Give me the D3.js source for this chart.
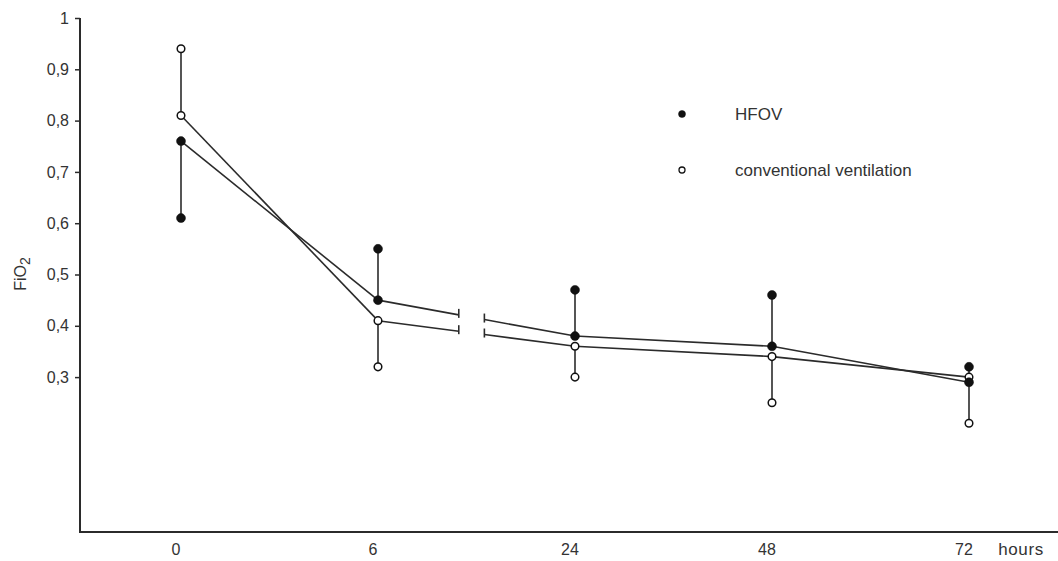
<!DOCTYPE html>
<html>
<head>
<meta charset="utf-8">
<script src="https://cdn.jsdelivr.net/npm/d3@7"></script>
<style>
  body { margin: 0; background: #fff; }
  svg { display: block; font-family: "Liberation Sans", Arial, sans-serif; }
</style>
</head>
<body>
<svg id="chart" width="1058" height="561"></svg>
<script>
// hours after start
var hours = ["0", "6", "24", "48", "72"],
    hfovMean = [0.76, 0.45, 0.38, 0.36, 0.29],
    hfovBar = [0.61, 0.55, 0.47, 0.46, 0.32],
    convMean = [0.81, 0.41, 0.36, 0.34, 0.30],
    convBar = [0.94, 0.32, 0.30, 0.25, 0.21],
    yTicks = [0.3, 0.4, 0.5, 0.6, 0.7, 0.8, 0.9, 1],
    seriesNames = ["HFOV", "conventional ventilation"];

var ink = "#2b2b2b",
    textInk = "#333",
    axisX = 80,
    axisY = 532;

var svg = d3.select("#chart");

var xScale = d3.scalePoint().domain(hours).range([181, 969]),
    yScale = d3.scaleLinear().domain([0, 1]).range([531, 18]);

// y axis
var yAxis = svg.append("g")
    .attr("transform", "translate(" + axisX + ",0)")
    .call(d3.axisLeft(yScale)
        .tickValues(yTicks)
        .tickSize(5)
        .tickPadding(6)
        .tickFormat(function(d) {
            return d === 1 ? "1" : d3.format(".1f")(d).replace(".", ",");
        }));
yAxis.select(".domain").remove();
yAxis.selectAll("line").attr("stroke", ink).attr("stroke-width", 1.5);
yAxis.selectAll("text").attr("fill", textInk).style("font-size", "16px");

svg.append("line")
    .attr("x1", axisX).attr("x2", axisX)
    .attr("y1", 18).attr("y2", axisY + 1)
    .attr("stroke", ink).attr("stroke-width", 2);

// x axis
svg.append("line")
    .attr("x1", axisX - 1).attr("x2", 1058)
    .attr("y1", axisY).attr("y2", axisY)
    .attr("stroke", ink).attr("stroke-width", 2);

svg.append("g").selectAll("text")
    .data(hours)
    .enter().append("text")
    .attr("x", function(d) { return xScale(d) - 5; })
    .attr("y", axisY + 23)
    .attr("text-anchor", "middle")
    .attr("fill", textInk)
    .style("font-size", "16px")
    .text(function(d) { return d; });

svg.append("text")
    .attr("x", 1021)
    .attr("y", axisY + 23)
    .attr("text-anchor", "middle")
    .attr("fill", textInk)
    .style("font-size", "17px")
    .style("letter-spacing", "0.6px")
    .text("hours");

// y label FiO2
var yl = svg.append("text")
    .attr("transform", "translate(26,274) rotate(-90)")
    .attr("text-anchor", "middle")
    .attr("fill", textInk)
    .style("font-size", "16px");
yl.append("tspan").text("FiO");
yl.append("tspan").attr("dy", 4).style("font-size", "14px").text("2");

// error bars
function drawBars(means, bars) {
    svg.append("g").selectAll("line")
        .data(hours)
        .enter().append("line")
        .attr("x1", function(d) { return xScale(d); })
        .attr("x2", function(d) { return xScale(d); })
        .attr("y1", function(d, i) { return yScale(means[i]); })
        .attr("y2", function(d, i) { return yScale(bars[i]); })
        .attr("stroke", ink)
        .attr("stroke-width", 1.6);
}
drawBars(hfovMean, hfovBar);
drawBars(convMean, convBar);

// connecting lines, broken between 6 and 24
var gapFrom = 0.41, gapTo = 0.54;
function drawLine(means) {
    var g = svg.append("g");
    for (var i = 0; i < hours.length - 1; i++) {
        var x0 = xScale(hours[i]), y0 = yScale(means[i]),
            x1 = xScale(hours[i + 1]), y1 = yScale(means[i + 1]);
        if (hours[i] === "6") {
            var ax = x0 + (x1 - x0) * gapFrom, ay = y0 + (y1 - y0) * gapFrom,
                bx = x0 + (x1 - x0) * gapTo, by = y0 + (y1 - y0) * gapTo;
            g.append("line").attr("x1", x0).attr("y1", y0).attr("x2", ax).attr("y2", ay);
            g.append("line").attr("x1", ax).attr("y1", ay - 6).attr("x2", ax).attr("y2", ay + 3);
            g.append("line").attr("x1", bx).attr("y1", by).attr("x2", x1).attr("y2", y1);
            g.append("line").attr("x1", bx).attr("y1", by - 6).attr("x2", bx).attr("y2", by + 3);
        } else {
            g.append("line").attr("x1", x0).attr("y1", y0).attr("x2", x1).attr("y2", y1);
        }
    }
    g.selectAll("line").attr("stroke", ink).attr("stroke-width", 1.6);
}
drawLine(hfovMean);
drawLine(convMean);

// markers
function drawDots(values, filled) {
    svg.append("g").selectAll("circle")
        .data(values)
        .enter().append("circle")
        .attr("cx", function(d, i) { return xScale(hours[i]); })
        .attr("cy", function(d) { return yScale(d); })
        .attr("r", filled ? 4.5 : 3.8)
        .attr("fill", filled ? "#111" : "#fff")
        .attr("stroke", "#111")
        .attr("stroke-width", filled ? 0.5 : 1.5);
}
drawDots(convBar, false);
drawDots(hfovBar, true);
drawDots(convMean, false);
drawDots(hfovMean, true);

// legend
var legend = svg.append("g").selectAll("g")
    .data(seriesNames)
    .enter().append("g")
    .attr("transform", function(d, i) { return "translate(682," + (114 + i * 56) + ")"; });
legend.append("circle")
    .attr("r", function(d, i) { return i === 0 ? 3.5 : 3; })
    .attr("fill", function(d, i) { return i === 0 ? "#111" : "#fff"; })
    .attr("stroke", "#111")
    .attr("stroke-width", function(d, i) { return i === 0 ? 0.5 : 1.3; });
legend.append("text")
    .attr("x", 53)
    .attr("dy", "0.35em")
    .attr("fill", textInk)
    .style("font-size", "17px")
    .text(function(d) { return d; });
</script>
</body>
</html>
